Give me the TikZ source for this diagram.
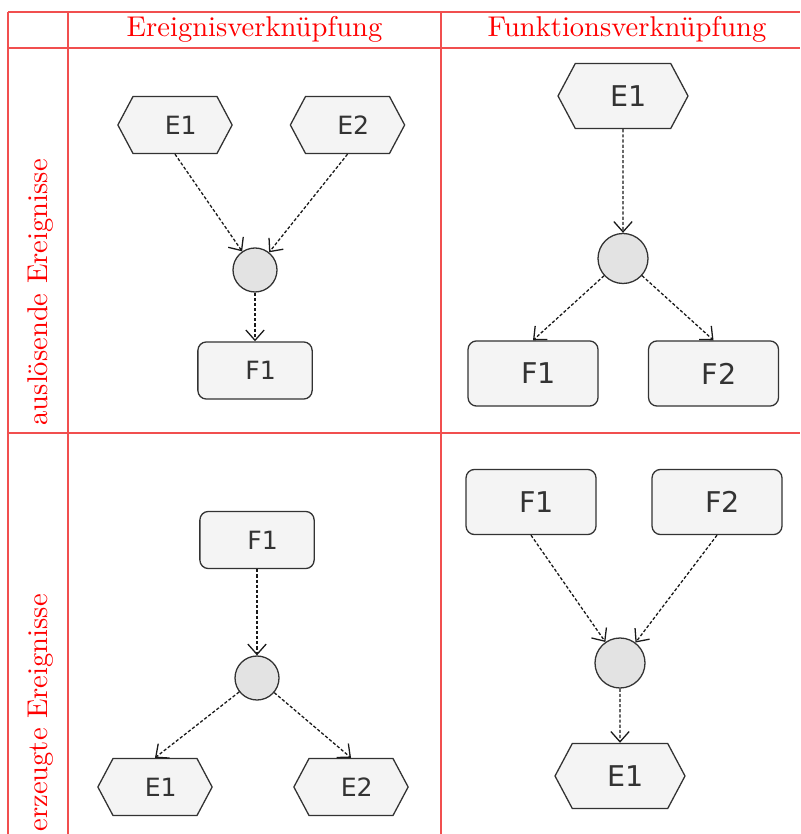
\documentclass[tikz,border=0pt]{standalone}
\usepackage{fontspec}
\newfontfamily\diafont{DejaVu Sans}
\usetikzlibrary{shapes.symbols,arrows.meta}
\definecolor{linegray}{HTML}{333333}
\definecolor{boxfill}{HTML}{F4F4F4}
\definecolor{dotfill}{HTML}{E3E3E3}
\definecolor{tabred}{HTML}{EE3030}
\tikzstyle{grid}=[draw=tabred!85,line width=0.4pt]
\tikzstyle{head}=[text=red,inner sep=0pt,font=\fontsize{10}{12}\selectfont]
\tikzstyle{event}=[signal,signal to=west and east,signal pointer angle=124,draw=linegray,fill=boxfill,line width=0.45pt,inner sep=0pt,text=linegray,execute at begin node={\kern4pt}]
\tikzstyle{func}=[rectangle,rounded corners=3pt,draw=linegray,fill=boxfill,line width=0.45pt,inner sep=0pt,text=linegray,execute at begin node={\kern4pt}]
\tikzstyle{conn}=[circle,draw=linegray,fill=dotfill,line width=0.45pt,inner sep=0pt]
\tikzstyle{flow}=[-{Straight Barb[length=3.6pt,width=6.4pt]},dash pattern=on 1.1pt off 0.7pt,line width=0.45pt,draw=black!90]

\begin{document}
\begin{tikzpicture}[x=0.35pt,y=-0.35pt]
    \tikzstyle{small}=[minimum width=40pt,minimum height=20pt,font=\diafont\fontsize{8.8}{10}\selectfont]
    \tikzstyle{large}=[minimum width=45.5pt,minimum height=22.8pt,font=\diafont\fontsize{10}{12}\selectfont]
    \useasboundingbox (0,0) rectangle (800,834);

    % table
    \draw[grid] (8,12) -- (800,12);
    \draw[grid] (8,48) -- (800,48);
    \draw[grid] (8,433) -- (800,433);
    \draw[grid] (8,12) -- (8,834);
    \draw[grid] (68,12) -- (68,834);
    \draw[grid] (441,12) -- (441,834);

    \node[head,anchor=base] (hEv) at (254.5,37) {Ereignisverknüpfung};
    \node[head,anchor=base] (hFn) at (627,37) {Funktionsverknüpfung};
    \node[head,rotate=90,anchor=base west] (rAus) at (47,426) {auslösende Ereignisse};
    \node[head,rotate=90,anchor=base west] (rErz) at (47,832) {erzeugte Ereignisse};

    % ausloesende Ereignisse, Ereignisverknuepfung
    \node[event,small] (aE1) at (175,125) {E1};
    \node[event,small] (aE2) at (347.5,125) {E2};
    \node[conn,minimum size=15.4pt] (aC) at (255,270) {};
    \node[func,small] (aF1) at (255,370.5) {F1};
    \draw[flow] (aE1.south) -- (aC);
    \draw[flow] (aE2.south) -- (aC);
    \draw[flow] (aC) -- (aF1);

    % ausloesende Ereignisse, Funktionsverknuepfung
    \node[event,large] (bE1) at (623,96) {E1};
    \node[conn,minimum size=17.5pt] (bC) at (623,258.5) {};
    \node[func,large] (bF1) at (533,373.5) {F1};
    \node[func,large] (bF2) at (713.5,373.5) {F2};
    \draw[flow] (bE1) -- (bC);
    \draw[flow] (bC) -- (bF1.north);
    \draw[flow] (bC) -- (bF2.north);

    % erzeugte Ereignisse, Ereignisverknuepfung
    \node[func,small] (cF1) at (257,540) {F1};
    \node[conn,minimum size=15.4pt] (cC) at (257,678) {};
    \node[event,small] (cE1) at (155,787) {E1};
    \node[event,small] (cE2) at (351,787) {E2};
    \draw[flow] (cF1) -- (cC);
    \draw[flow] (cC) -- (cE1.north);
    \draw[flow] (cC) -- (cE2.north);

    % erzeugte Ereignisse, Funktionsverknuepfung
    \node[func,large] (dF1) at (531,502) {F1};
    \node[func,large] (dF2) at (717,502) {F2};
    \node[conn,minimum size=17.5pt] (dC) at (620,663) {};
    \node[event,large] (dE1) at (620,776) {E1};
    \draw[flow] (dF1.south) -- (dC);
    \draw[flow] (dF2.south) -- (dC);
    \draw[flow] (dC) -- (dE1);
\end{tikzpicture}
\end{document}
